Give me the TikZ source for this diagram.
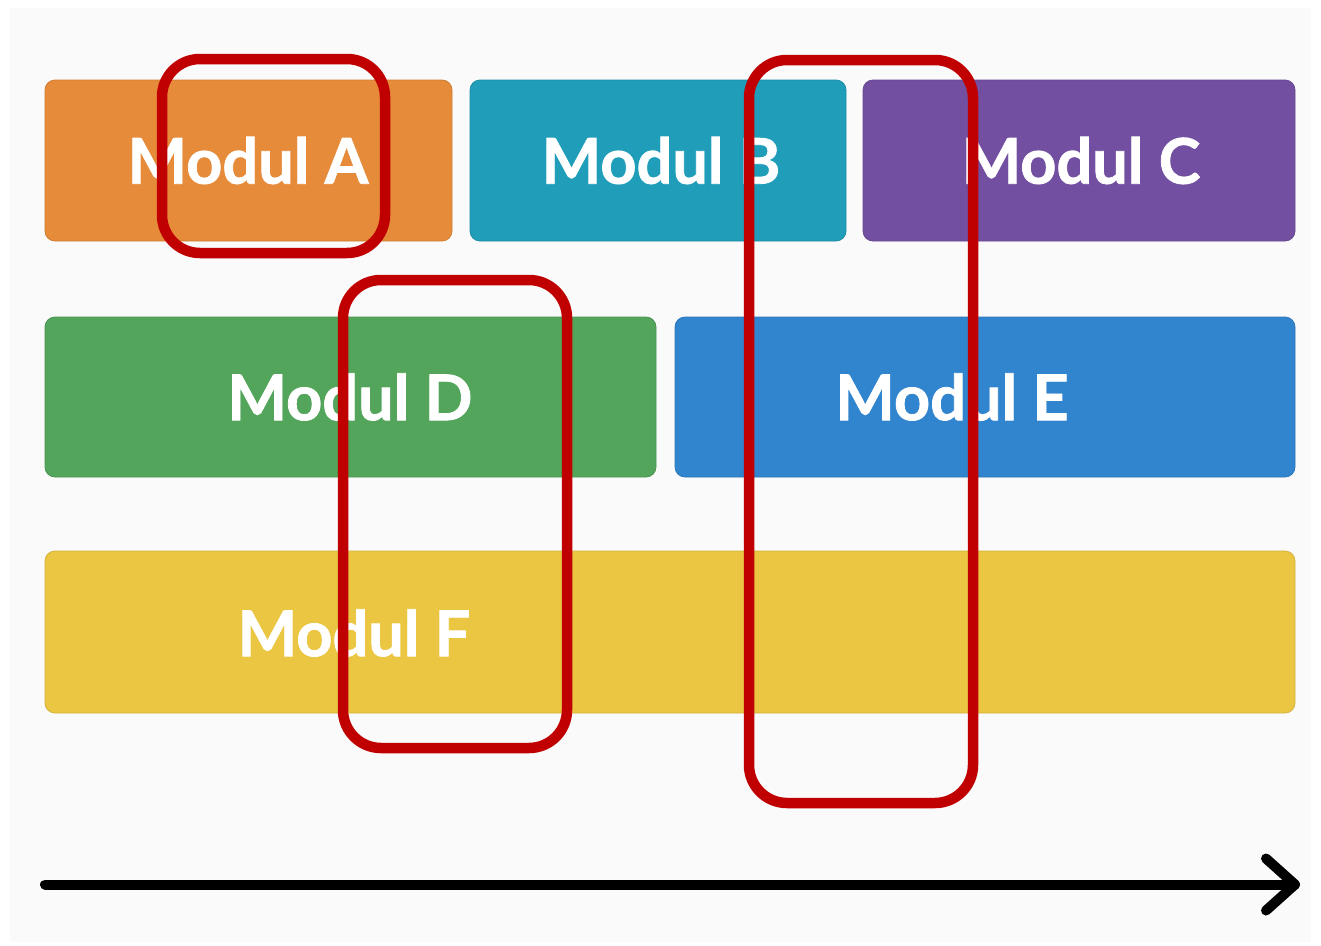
\documentclass[tikz,border=0pt]{standalone}
\usepackage{fontspec}
\setmainfont{Lato}[BoldFeatures={FakeBold=1.2}]
\definecolor{bgc}{HTML}{FAFAFA}
\definecolor{cA}{HTML}{E68B39}
\definecolor{cB}{HTML}{1F9DB9}
\definecolor{cC}{HTML}{724FA0}
\definecolor{cD}{HTML}{53A55B}
\definecolor{cE}{HTML}{3184CE}
\definecolor{cF}{HTML}{EBC642}
\definecolor{frame}{HTML}{C00000}
\tikzset{
  modbox/.style={rectangle, rounded corners=10pt, inner sep=0pt, outer sep=0pt, line width=0.8pt},
  modlabel/.style={text=white, inner sep=0pt, font=\fontsize{63}{63}\selectfont\bfseries},
  redframe/.style={rectangle, draw=frame, line width=10.5pt, rounded corners=38pt, inner sep=0pt, outer sep=0pt},
  axis/.style={line width=10pt, line cap=round, line join=round, draw=black}
}
\begin{document}
\begin{tikzpicture}[x=1pt,y=-1pt]
\useasboundingbox (0,0) rectangle (1321,945);
\fill[white] (0,0) rectangle (1321,945);
\fill[bgc] (10,8) rectangle (1311,942);
% module boxes
\node[modbox, fill=cA, draw=cA!90!black, minimum width=407pt, minimum height=161pt] (A) at (248.5,160.5) {};
\node[modbox, fill=cB, draw=cB!90!black, minimum width=376pt, minimum height=161pt] (B) at (658,160.5) {};
\node[modbox, fill=cC, draw=cC!90!black, minimum width=432pt, minimum height=161pt] (C) at (1079,160.5) {};
\node[modbox, fill=cD, draw=cD!90!black, minimum width=611pt, minimum height=160pt] (D) at (350.5,397) {};
\node[modbox, fill=cE, draw=cE!90!black, minimum width=620pt, minimum height=160pt] (E) at (985,397) {};
\node[modbox, fill=cF, draw=cF!90!black, minimum width=1250pt, minimum height=162pt] (F) at (670,632) {};
% labels
\node[modlabel] (tA) at (248,160.5) {Modul A};
\node[modlabel] (tB) at (661,160.5) {Modul B};
\node[modlabel] (tC) at (1081,160.5) {Modul C};
\node[modlabel] (tD) at (350,397) {Modul D};
\node[modlabel] (tE) at (952,397) {Modul E};
\node[modlabel] (tF) at (354,633) {Modul F};
% red frames
\node[redframe, minimum width=223pt, minimum height=194pt] (R1) at (273.5,156) {};
\node[redframe, minimum width=224pt, minimum height=468pt] (R2) at (455,514) {};
\node[redframe, minimum width=224pt, minimum height=743pt] (R3) at (861,431.5) {};
% time axis
\coordinate (axs) at (45,884.5);
\coordinate (axe) at (1295,884.5);
\draw[axis] (axs) -- (axe);
\draw[axis] ([shift={(-29pt,-26pt)}]axe) -- (axe) -- ([shift={(-29pt,26pt)}]axe);
\end{tikzpicture}
\end{document}
